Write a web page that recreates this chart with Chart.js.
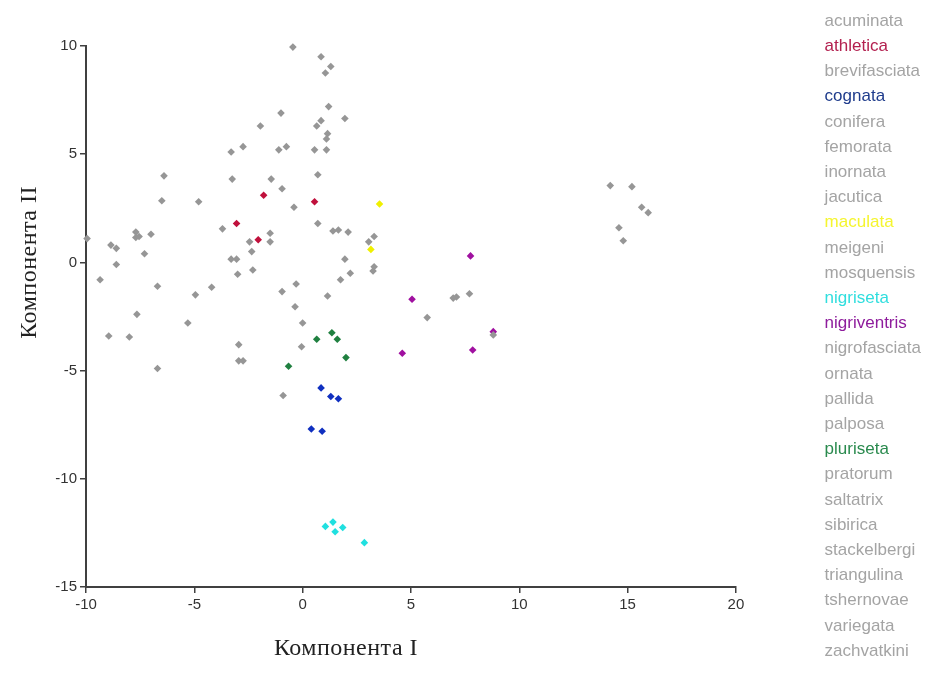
<!DOCTYPE html>
<html>
<head>
<meta charset="utf-8">
<script src="https://cdn.jsdelivr.net/npm/chart.js@4/dist/chart.umd.min.js"></script>
<style>
  body { margin: 0; background: #fff; }
  #wrap { width: 931px; height: 681px; }
</style>
</head>
<body>
<div id="wrap"><canvas id="chart" width="931" height="681"></canvas></div>
<script>
const X_TITLE = 'Компонента I';
const Y_TITLE = 'Компонента II';
const X_TICKS = [-10, -5, 0, 5, 10, 15, 20];
const Y_TICKS = [-15, -10, -5, 0, 5, 10];

const species = ['acuminata', 'athletica', 'brevifasciata', 'cognata', 'conifera', 'femorata',
  'inornata', 'jacutica', 'maculata', 'meigeni', 'mosquensis', 'nigriseta', 'nigriventris',
  'nigrofasciata', 'ornata', 'pallida', 'palposa', 'pluriseta', 'pratorum', 'saltatrix',
  'sibirica', 'stackelbergi', 'triangulina', 'tshernovae', 'variegata', 'zachvatkini'];

// colour per highlighted species (text colour, point colour)
const textColors = {
  athletica: '#b3204f', cognata: '#1f3c8c', maculata: '#f5f530',
  nigriseta: '#30dede', nigriventris: '#8e1c9c', pluriseta: '#2a8a4e'
};
const pointColors = {
  athletica: '#c0103c', cognata: '#1030c0', maculata: '#f0f000',
  nigriseta: '#20e0e0', nigriventris: '#a010a0', pluriseta: '#208040'
};
const GRAY_TEXT = '#a4a4a4';
const GRAY_POINT = '#969696';

const athletica = [[-1.8, 3.1], [0.55, 2.8], [-3.05, 1.8], [-2.05, 1.05]];
const maculata = [[3.55, 2.7], [3.15, 0.6]];
const nigriventris = [[7.75, 0.3], [5.05, -1.7], [8.8, -3.2], [7.85, -4.05], [4.6, -4.2]];
const pluriseta = [[1.35, -3.25], [1.6, -3.55], [0.65, -3.55], [2.0, -4.4], [-0.65, -4.8]];
const cognata = [[0.85, -5.8], [1.3, -6.2], [1.65, -6.3], [0.4, -7.7], [0.9, -7.8]];
const nigriseta = [[1.05, -12.2], [1.4, -12.0], [1.85, -12.25], [1.5, -12.45], [2.85, -12.95]];

// the remaining (grey) species
const others = [
  [-0.45, 9.95], [-1.0, 6.9], [-1.95, 6.3], [-3.3, 5.1], [-2.75, 5.35], [-1.1, 5.2], [-0.75, 5.35],
  [-6.4, 4.0], [-3.25, 3.85], [-1.45, 3.85], [-0.95, 3.4], [-6.5, 2.85], [-4.8, 2.8], [-0.4, 2.55],
  [0.85, 9.5], [1.3, 9.05], [1.05, 8.75], [1.2, 7.2], [1.95, 6.65], [0.85, 6.55], [0.65, 6.3],
  [1.15, 5.95], [1.1, 5.7], [0.55, 5.2], [1.1, 5.2], [0.7, 4.05],
  [-9.95, 1.1], [-8.85, 0.8], [-8.6, 0.65], [-7.7, 1.4], [-7.7, 1.15], [-7.55, 1.2], [-7.0, 1.3],
  [-7.3, 0.4], [-8.6, -0.1], [-9.35, -0.8], [-6.7, -1.1], [-4.95, -1.5], [-4.2, -1.15],
  [-7.65, -2.4], [-5.3, -2.8], [-8.95, -3.4], [-8.0, -3.45], [-6.7, -4.9],
  [-3.7, 1.55], [-2.45, 0.95], [-1.5, 1.35], [-1.5, 0.95], [-2.35, 0.5], [-3.3, 0.15], [-3.05, 0.15],
  [-3.0, -0.55], [-2.3, -0.35], [-0.95, -1.35], [-0.3, -1.0], [-0.35, -2.05],
  [-2.95, -3.8], [-2.95, -4.55], [-2.75, -4.55], [-0.9, -6.15],
  [0.7, 1.8], [1.4, 1.45], [1.65, 1.5], [2.1, 1.4], [3.3, 1.2], [3.05, 0.95], [1.95, 0.15],
  [3.3, -0.2], [3.25, -0.4], [2.2, -0.5], [1.75, -0.8], [1.15, -1.55], [5.75, -2.55],
  [0.0, -2.8], [-0.05, -3.9], [7.1, -1.6], [6.95, -1.65], [7.7, -1.45], [8.8, -3.35],
  [14.2, 3.55], [15.2, 3.5], [15.65, 2.55], [15.95, 2.3], [14.6, 1.6], [14.8, 1.0]
];

const groups = { athletica, maculata, nigriventris, pluriseta, cognata, nigriseta };

const toXY = arr => arr.map(([x, y]) => ({ x, y }));

const datasets = [{
  label: 'other',
  data: toXY(others),
  backgroundColor: GRAY_POINT,
  borderColor: GRAY_POINT,
  clip: false
}];
Object.keys(groups).forEach(name => {
  datasets.push({
    label: name,
    data: toXY(groups[name]),
    backgroundColor: pointColors[name],
    borderColor: pointColors[name],
    clip: false
  });
});

const axisTitles = {
  id: 'axisTitles',
  afterDraw(chart) {
    const { ctx, scales: { x, y } } = chart;
    ctx.save();
    ctx.font = '24px "Liberation Serif"';
    ctx.letterSpacing = '0.5px';
    ctx.fillStyle = '#222';
    ctx.textAlign = 'center';
    ctx.textBaseline = 'middle';
    ctx.fillText(X_TITLE, x.getPixelForValue(2), x.bottom - 32);
    ctx.translate(30, y.getPixelForValue(0));
    ctx.rotate(-Math.PI / 2);
    ctx.fillText(Y_TITLE, 0, 0);
    ctx.restore();
  }
};

const tickFont = { family: '"Liberation Sans", Arial', size: 15 };

new Chart(document.getElementById('chart'), {
  type: 'scatter',
  data: { datasets },
  plugins: [axisTitles],
  options: {
    responsive: false,
    animation: false,
    devicePixelRatio: 1,
    elements: {
      point: { pointStyle: 'rectRot', radius: 3.8, borderWidth: 0 }
    },
    layout: { padding: 0 },
    plugins: {
      tooltip: { enabled: false },
      legend: {
        position: 'right',
        align: 'start',
        title: { display: true, text: '', font: { size: 2 }, padding: 1 },
        labels: {
          boxWidth: 0,
          padding: 8.2,
          font: { family: '"Liberation Sans", Arial', size: 17 },
          generateLabels: () => species.map(name => ({
            text: name,
            fontColor: textColors[name] || GRAY_TEXT,
            fillStyle: 'rgba(0,0,0,0)',
            strokeStyle: 'rgba(0,0,0,0)',
            lineWidth: 0,
            hidden: false
          }))
        }
      }
    },
    scales: {
      x: {
        type: 'linear',
        min: -10, max: 20,
        afterBuildTicks: s => { s.ticks = X_TICKS.map(v => ({ value: v })); },
        afterFit: s => { s.height = 94; },
        grid: { drawOnChartArea: false, tickLength: 6, color: '#404040', lineWidth: 1.5 },
        border: { color: '#404040', width: 2 },
        ticks: { color: '#333', font: tickFont, padding: 3, maxRotation: 0 }
      },
      y: {
        type: 'linear',
        min: -15, max: 10,
        afterBuildTicks: s => { s.ticks = Y_TICKS.map(v => ({ value: v })); },
        afterFit: s => { s.width = 86; },
        grid: { drawOnChartArea: false, tickLength: 6, color: '#404040', lineWidth: 1.5 },
        border: { color: '#404040', width: 2 },
        ticks: { color: '#333', font: tickFont, padding: 3 }
      },
      xTop: {
        type: 'linear', axis: 'x', position: 'top',
        grid: { display: false }, border: { display: false }, ticks: { display: false },
        afterFit: s => { s.height = 46; }
      },
      yRight: {
        type: 'linear', axis: 'y', position: 'right',
        grid: { display: false }, border: { display: false }, ticks: { display: false },
        afterFit: s => { s.width = 72; }
      }
    }
  }
});
</script>
</body>
</html>
